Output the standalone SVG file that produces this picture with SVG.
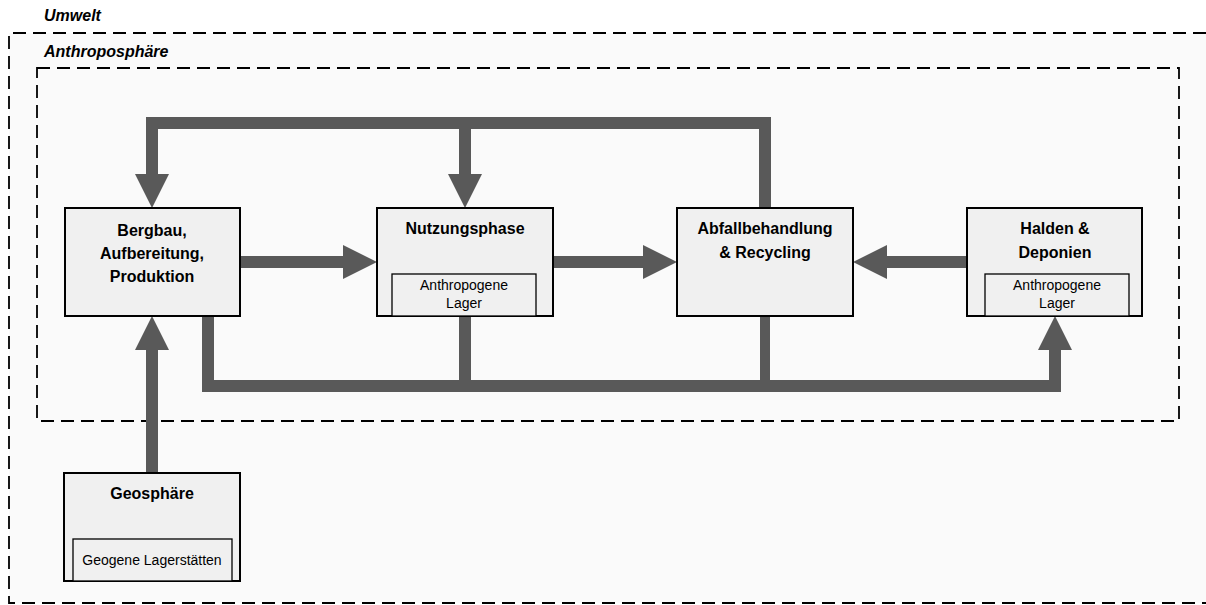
<svg xmlns="http://www.w3.org/2000/svg" width="1206" height="605" viewBox="0 0 1206 605">
<style>
.zone{fill:none;stroke:#000;stroke-width:1.8;stroke-dasharray:13 7}
.zlabel{font-family:"Liberation Sans",Arial,sans-serif;font-weight:bold;font-style:italic;font-size:16px;fill:#000}
.box{fill:#f0f0f0;stroke:#000;stroke-width:2}
.inner{fill:#f0f0f0;stroke:#000;stroke-width:1.3}
.title{font-family:"Liberation Sans",Arial,sans-serif;font-weight:bold;font-size:16px;fill:#000;text-anchor:middle}
.sub{font-family:"Liberation Sans",Arial,sans-serif;font-size:14px;fill:#000;text-anchor:middle}
.flow{fill:none;stroke:#595959;stroke-width:12;stroke-linejoin:miter}
.thin{stroke-width:10}
</style>
<defs>
<marker id="head" markerUnits="userSpaceOnUse" viewBox="0 0 34 34" markerWidth="34" markerHeight="34" refX="0" refY="17" orient="auto">
<path d="M0,0 L34,17 L0,34 Z" fill="#595959"/>
</marker>
</defs>
<rect x="0" y="0" width="1206" height="605" fill="#ffffff"/>
<g id="umwelt">
<rect x="9" y="33" width="1197" height="570" fill="#fafafa"/>
<path class="zone" d="M1206,33 L9,33 L9,603 L1206,603"/>
<text class="zlabel" x="44" y="21">Umwelt</text>
</g>
<g id="anthroposphaere">
<rect class="zone" x="37" y="68" width="1142" height="353" fill="#ffffff"/>
<text class="zlabel" x="44" y="57">Anthroposphäre</text>
</g>
<g id="connectors">
<line class="flow" x1="240" y1="262" x2="343" y2="262" marker-end="url(#head)"/>
<line class="flow" x1="553" y1="262" x2="643" y2="262" marker-end="url(#head)"/>
<line class="flow" x1="967" y1="262" x2="887" y2="262" marker-end="url(#head)"/>
<polyline class="flow" points="765,208 765,123 152,123 152,174" marker-end="url(#head)"/>
<line class="flow" x1="465" y1="123" x2="465" y2="174" marker-end="url(#head)"/>
<polyline class="flow" points="208,316 208,386 1055,386 1055,350" marker-end="url(#head)"/>
<line class="flow" x1="465" y1="316" x2="465" y2="386"/>
<line class="flow thin" x1="765" y1="316" x2="765" y2="386"/>
<line class="flow" x1="152" y1="473" x2="152" y2="350" marker-end="url(#head)"/>
</g>
<g id="bergbau">
<rect class="box" x="65" y="208" width="175" height="108"/>
<text class="title" x="152" y="236">Bergbau,</text>
<text class="title" x="152" y="259">Aufbereitung,</text>
<text class="title" x="152" y="282">Produktion</text>
</g>
<g id="nutzungsphase">
<rect class="box" x="377" y="208" width="176" height="108"/>
<text class="title" x="465" y="234">Nutzungsphase</text>
<rect class="inner" x="392" y="274" width="144" height="42"/>
<text class="sub" x="464" y="290">Anthropogene</text>
<text class="sub" x="464" y="308">Lager</text>
</g>
<g id="abfallbehandlung">
<rect class="box" x="677" y="208" width="176" height="108"/>
<text class="title" x="765" y="234">Abfallbehandlung</text>
<text class="title" x="765" y="258">&amp; Recycling</text>
</g>
<g id="halden">
<rect class="box" x="967" y="208" width="175" height="108"/>
<text class="title" x="1055" y="234">Halden &amp;</text>
<text class="title" x="1055" y="258">Deponien</text>
<rect class="inner" x="985" y="274" width="144" height="42"/>
<text class="sub" x="1057" y="290">Anthropogene</text>
<text class="sub" x="1057" y="308">Lager</text>
</g>
<g id="geosphaere">
<rect class="box" x="64" y="473" width="176" height="108"/>
<text class="title" x="152" y="499">Geosphäre</text>
<rect class="inner" x="73" y="539" width="159" height="42"/>
<text class="sub" x="152" y="565">Geogene Lagerstätten</text>
</g>
</svg>
